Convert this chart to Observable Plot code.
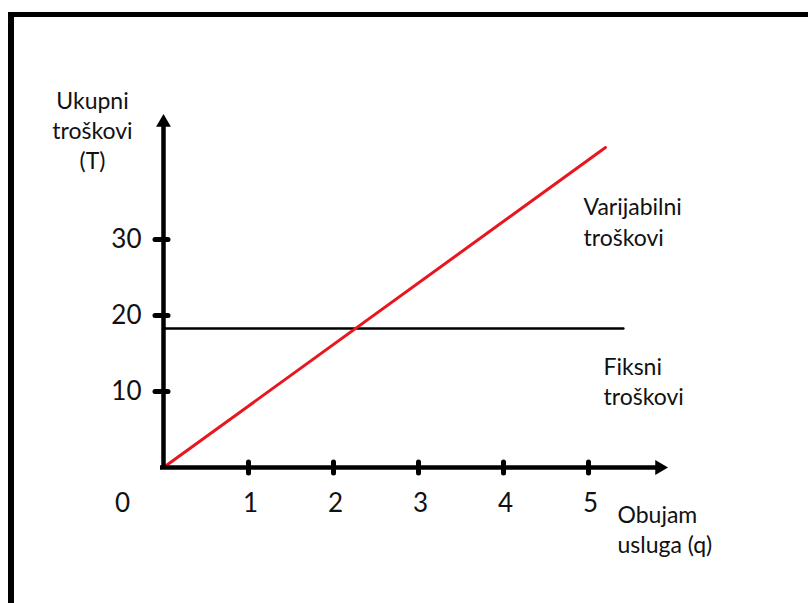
<!DOCTYPE html>
<html>
<head>
<meta charset="utf-8">
<script src="https://cdn.jsdelivr.net/npm/d3@7"></script>
<script src="https://cdn.jsdelivr.net/npm/@observablehq/plot@0.6"></script>
<style>
  html, body { margin: 0; padding: 0; background: #fff; }
  #wrap { position: relative; width: 808px; height: 603px; overflow: hidden; }
  #frame { position: absolute; left: 8px; top: 12px; right: -20px; bottom: -20px;
           border-top: 5px solid #000; border-left: 6px solid #000; pointer-events: none; }
  #chart { position: absolute; left: 0; top: 0; }
</style>
</head>
<body>
<div id="wrap"><div id="chart"></div><div id="frame"></div></div>
<script>
// ---- data ----
const xTicks = [1, 2, 3, 4, 5];
const yTicks = [10, 20, 30];
const xTickLabels = ["1", "2", "3", "4", "5"];
const yTickLabels = ["10", "20", "30"];
const varQ = [0, 5.2];      // variable cost line (q)
const varT = [0, 42.1];     // variable cost line (T)
const fixQ = [0, 5.41];     // fixed cost line (q)
const fixT = [18.3, 18.3];  // fixed cost line (T)
const yAxisLabel = "Ukupni\ntroškovi\n(T)";
const xAxisLabel = "Obujam\nusluga (q)";
const varLabel = "Varijabilni\ntroškovi";
const fixLabel = "Fiksni\ntroškovi";

// ---- layout helpers (pixel -> data units) ----
const X0 = 163, UX = 85, Y0 = 467, UY = 7.6;
const X = px => (px - X0) / UX;
const Y = py => (Y0 - py) / UY;

const varData = varQ.map((q, i) => ({q, T: varT[i]}));
const fixData = fixQ.map((q, i) => ({q, T: fixT[i]}));

const font = "Lato, 'Open Sans', sans-serif";
const ink = "#111";

const chart = Plot.plot({
  width: 808,
  height: 603,
  margin: 0,
  style: {fontFamily: font, background: "transparent", overflow: "visible"},
  x: {domain: [X(0), X(808)], range: [0, 808], axis: null},
  y: {domain: [Y(603), Y(0)], range: [603, 0], axis: null},
  marks: [
    // fixed cost line
    Plot.line(fixData, {x: "q", y: "T", stroke: "#000", strokeWidth: 2.5}),
    // variable cost line
    Plot.line(varData, {x: "q", y: "T", stroke: "#e8161e", strokeWidth: 3}),
    // axes
    Plot.ruleX([0], {y1: Y(469), y2: Y(124), stroke: "#000", strokeWidth: 4.5}),
    Plot.ruleY([0], {x1: X(160), x2: X(658), stroke: "#000", strokeWidth: 4.5}),
    // arrowheads
    Plot.dot([0], {x: 0, y: Y(122), symbol: "triangle", r: 5.5, fill: "#000", stroke: null}),
    Plot.dot([0], {x: X(659), y: 0, symbol: "triangle", r: 5.5, fill: "#000", stroke: null, rotate: 90}),
    // ticks
    Plot.ruleY(yTicks, {x1: X(155), x2: X(168), stroke: "#000", strokeWidth: 5, strokeLinecap: "round"}),
    Plot.ruleX(xTicks, {y1: Y(462), y2: Y(473), stroke: "#000", strokeWidth: 5, strokeLinecap: "round"}),
    // tick labels
    Plot.text(yTicks, {x: 0, y: d => d, text: (d, i) => yTickLabels[i], textAnchor: "end", lineAnchor: "middle",
      dx: -22, fontSize: 26, fill: ink}),
    Plot.text(xTicks, {x: d => d, y: 0, text: (d, i) => xTickLabels[i], textAnchor: "middle", lineAnchor: "middle",
      dx: 2, dy: 36, fontSize: 26, fill: ink}),
    Plot.text(["0"], {x: 0, y: 0, text: d => d, textAnchor: "middle", lineAnchor: "middle",
      dx: -41, dy: 36, fontSize: 26, fill: ink}),
    // axis titles & line labels
    Plot.text([yAxisLabel], {x: X(92), y: Y(108), text: d => d, textAnchor: "middle", lineAnchor: "bottom",
      fontSize: 23, lineHeight: 1.3, fill: ink, dy: 60}),
    Plot.text([varLabel], {x: X(583), y: Y(192), text: d => d, textAnchor: "start", lineAnchor: "top",
      fontSize: 23, lineHeight: 1.35, fill: ink}),
    Plot.text([fixLabel], {x: X(603), y: Y(353), text: d => d, textAnchor: "start", lineAnchor: "top",
      fontSize: 23, lineHeight: 1.3, fill: ink}),
    Plot.text([xAxisLabel], {x: X(617), y: Y(501), text: d => d, textAnchor: "start", lineAnchor: "top",
      fontSize: 23, lineHeight: 1.3, fill: ink})
  ]
});
document.getElementById("chart").appendChild(chart);
</script>
</body>
</html>
